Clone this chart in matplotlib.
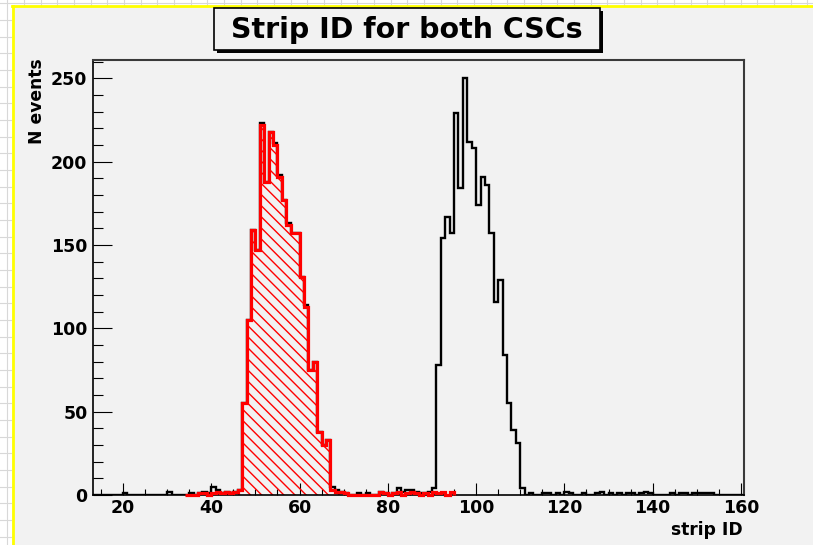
import numpy as np
import matplotlib
matplotlib.use("Agg")
import matplotlib.pyplot as plt
from matplotlib.patches import Rectangle
from matplotlib.ticker import MultipleLocator

plt.rcParams['font.family'] = ['DejaVu Sans']
plt.rcParams['font.weight'] = 'bold'
plt.rcParams['hatch.linewidth'] = 1.0

# red: strip ID for the first CSC, bins 34..94 (width 1)
red_start = 34
red_counts = [0, 0, 0, 1, 1, 0, 1, 2, 1, 2, 1, 2, 3,
              55, 105, 159, 147, 222, 188, 218, 210, 191, 177, 162, 157, 157,
              131, 113, 75, 80, 38, 30, 33,
              3, 2, 2, 1, 0, 0, 0, 0, 0, 0, 0, 2, 1, 0, 1, 2, 0, 1, 2, 1, 0,
              1, 0, 2, 1, 2, 0, 2]

# second CSC: main peak plus a few scattered entries
peak2_start = 91
peak2_counts = [77, 152, 167, 155, 229, 184, 250, 212, 208, 174, 191, 186,
                157, 116, 129, 84, 55, 39, 31, 4]
noise2_bins = [20, 30, 35, 38, 39, 40, 41, 51, 54, 55, 57, 61, 67, 68, 73, 75,
               82, 83, 84, 85, 86, 87, 89, 90, 112, 115, 116, 118, 120, 121,
               124, 127, 128, 130, 132, 134, 135, 137, 138, 139, 144, 146, 147,
               149, 150, 151, 152, 153]
noise2_counts = [1, 2, 1, 1, 1, 4, 1, 1, 1, 1, 1, 1, 2, 1, 1, 1,
                 2, 2, 2, 1, 1, 1, 2, 2, 1, 1, 1, 1, 2, 1,
                 1, 1, 2, 1, 1, 1, 1, 1, 2, 1, 1, 1, 1,
                 1, 1, 1, 1, 1]

x_lo, x_hi = 13, 161
edges = np.arange(x_lo, x_hi + 1)
red = np.array(red_counts, dtype=float)
red_edges = np.arange(red_start, red_start + len(red) + 1)

both = np.zeros(len(edges) - 1)
both[red_start - x_lo:red_start - x_lo + len(red)] += red
both[peak2_start - x_lo:peak2_start - x_lo + len(peak2_counts)] += peak2_counts
for b, c in zip(noise2_bins, noise2_counts):
    both[b - x_lo] += c

W, H = 813, 545
fig = plt.figure(figsize=(W / 100, H / 100), dpi=100, facecolor='white')

# screenshot background: white grid, yellow border, grey canvas
bg = fig.add_axes([0, 0, 1, 1])
bg.set_xlim(0, W)
bg.set_ylim(H, 0)
bg.axis('off')
for gx in np.arange(7.3, W, 16.67):
    bg.plot([gx, gx], [0, H], color='#d8d8d8', lw=0.8, zorder=0)
for gy in np.arange(3.3, H, 16.67):
    bg.plot([0, W], [gy, gy], color='#d8d8d8', lw=0.8, zorder=0)
bg.add_patch(Rectangle((12, 6), W, H, facecolor='#f2f2f2', edgecolor='none', zorder=1))
bg.plot([12.5, 12.5], [6, H], color='#ffff00', lw=2, zorder=2)
bg.plot([12, W], [6, 6], color='#ffff00', lw=2, zorder=2)

# title box with shadow
bg.add_patch(Rectangle((216.5, 10.5), 386, 42, facecolor='black', edgecolor='none', zorder=3))
bg.add_patch(Rectangle((214, 8), 386, 42, facecolor='#f2f2f2', edgecolor='black', lw=1.2, zorder=4))
bg.text(407, 29.5, 'Strip ID for both CSCs', fontsize=20.5, fontweight='bold',
        ha='center', va='center', zorder=5)

ax = fig.add_axes([93 / W, 50 / H, 651 / W, 435 / H])
ax.set_facecolor('#f2f2f2')

ax.stairs(both, edges, color='black', lw=1.7, baseline=0, zorder=2)
ax.stairs(red, red_edges, fill=True, facecolor='none', edgecolor='red',
          hatch='\\\\\\', lw=0, zorder=2.2)
ax.stairs(red, red_edges, color='red', lw=2.3, baseline=0, zorder=3, clip_on=False)

ax.set_xlim(13.2, 160.7)
ax.set_ylim(0, 261)
ax.xaxis.set_major_locator(MultipleLocator(20))
ax.xaxis.set_minor_locator(MultipleLocator(5))
ax.yaxis.set_major_locator(MultipleLocator(50))
ax.yaxis.set_minor_locator(MultipleLocator(10))
ax.tick_params(which='both', direction='in', top=False, right=False, width=0.8,
               labelsize=12.5)
ax.tick_params(axis='x', which='major', length=8.6, pad=3)
ax.tick_params(axis='x', which='minor', length=4.3)
ax.tick_params(axis='y', which='major', length=13.7, pad=4)
ax.tick_params(axis='y', which='minor', length=7.2)
for lab in ax.get_xticklabels() + ax.get_yticklabels():
    lab.set_fontweight('bold')

for s in ['left', 'bottom']:
    ax.spines[s].set_color('black')
    ax.spines[s].set_linewidth(1.2)
for s in ['top', 'right']:
    ax.spines[s].set_color('#3a3a3a')
    ax.spines[s].set_linewidth(1.5)

ax.text(-56 / 651, 1 + 2 / 435, 'N events', transform=ax.transAxes, rotation=90,
        ha='center', va='top', fontsize=12.3, fontweight='bold')
ax.text(1 - 1 / 651, -35 / 435, 'strip ID', transform=ax.transAxes,
        ha='right', va='center', fontsize=12.3, fontweight='bold')

fig.savefig('out.png', dpi=100, facecolor='white')
